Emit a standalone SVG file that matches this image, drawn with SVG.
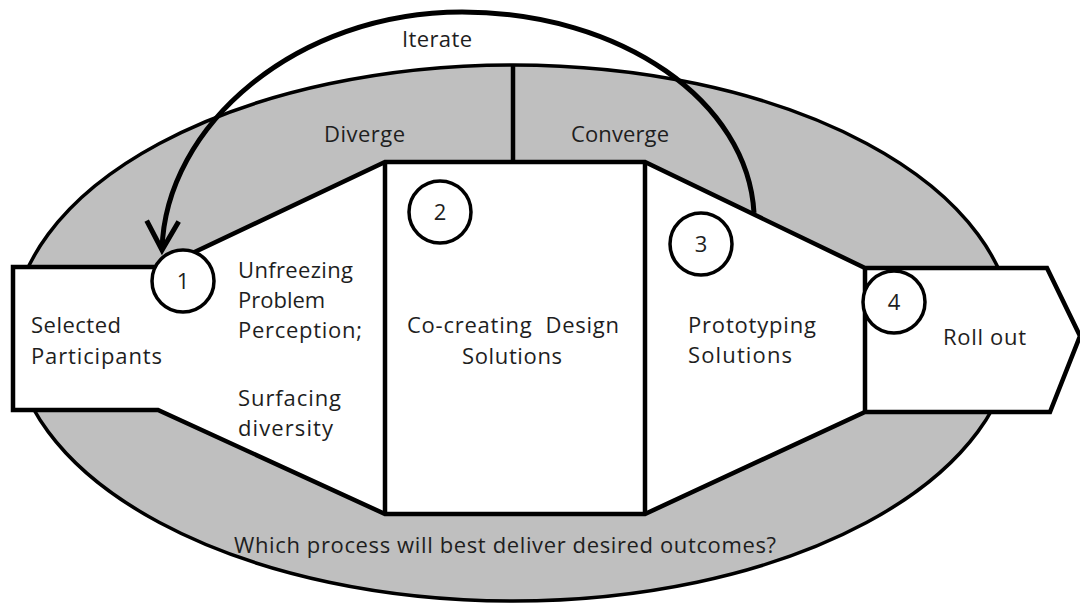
<svg xmlns="http://www.w3.org/2000/svg" width="1080" height="605" viewBox="0 0 1080 605">
<defs>
<style>
.bg{fill:#bfbfbf;stroke:#000;stroke-width:3.5}
.shape{fill:#fff;stroke:#000;stroke-width:4.5;stroke-linejoin:miter}
.line{stroke:#000;stroke-width:4.5;fill:none}
.num{fill:#fff;stroke:#000;stroke-width:3.5}
.arc{fill:none;stroke:#000;stroke-width:5}
text{font-family:"Open Sans","Noto Sans","Liberation Sans",sans-serif;font-size:22px;fill:#1e1e1e}
.c{text-anchor:middle}
</style>
<marker id="vhead" markerUnits="userSpaceOnUse" viewBox="-36 -22 44 44" refX="0" refY="0" markerWidth="44" markerHeight="44" orient="auto" overflow="visible">
<path d="M-29,-16 L0,0 L-29,16" fill="none" stroke="#000" stroke-width="5"/>
</marker>
</defs>
<rect width="1080" height="605" fill="#fff"/>
<g id="context-ellipse">
<ellipse class="bg" cx="513" cy="333" rx="500" ry="268"/>
<line class="line" x1="513" y1="65" x2="513" y2="162"/>
<text x="324" y="142" textLength="81">Diverge</text>
<text x="571" y="142" textLength="98">Converge</text>
<text x="234" y="553" textLength="542">Which process will best deliver desired outcomes?</text>
</g>
<g id="process-funnel">
<polygon class="shape" points="13,267 163,267 385,162 645,162 865,268 1047,268 1080,336 1050,412 865,412 645,514 385,514 158,410 13,410"/>
<line class="line" x1="385" y1="162" x2="385" y2="514"/>
<line class="line" x1="645" y1="162" x2="645" y2="514"/>
<line class="line" x1="865" y1="268" x2="865" y2="412"/>
</g>
<g id="node-selected">
<text x="31" y="333" textLength="90">Selected</text>
<text x="31" y="364" textLength="131">Participants</text>
</g>
<g id="node-diverge">
<text x="238" y="278" textLength="115">Unfreezing</text>
<text x="238" y="308">Problem</text>
<text x="238" y="338" textLength="124">Perception;</text>
<text x="238" y="406" textLength="103">Surfacing</text>
<text x="238" y="436" textLength="95">diversity</text>
</g>
<g id="node-cocreate">
<text x="407" y="333" textLength="212" xml:space="preserve">Co-creating  Design</text>
<text x="462" y="364" textLength="100">Solutions</text>
</g>
<g id="node-prototype">
<text x="688" y="333" textLength="128">Prototyping</text>
<text x="688" y="363" textLength="104">Solutions</text>
</g>
<g id="node-rollout">
<text x="943" y="345" textLength="83">Roll out</text>
</g>
<g id="connectors">
<path class="arc" d="M754,213 C748,102 622,12 462,12 C297,12 165,125 162,250" marker-end="url(#vhead)"/>
<text x="402" y="47" textLength="70">Iterate</text>
</g>
<g id="step-1">
<circle class="num" cx="183" cy="281" r="31"/>
<text class="c" x="183" y="289">1</text>
</g>
<g id="step-2">
<circle class="num" cx="440" cy="212" r="31"/>
<text class="c" x="440" y="220">2</text>
</g>
<g id="step-3">
<circle class="num" cx="701" cy="244" r="31"/>
<text class="c" x="701" y="252">3</text>
</g>
<g id="step-4">
<circle class="num" cx="894" cy="302" r="31"/>
<text class="c" x="894" y="310">4</text>
</g>
</svg>
